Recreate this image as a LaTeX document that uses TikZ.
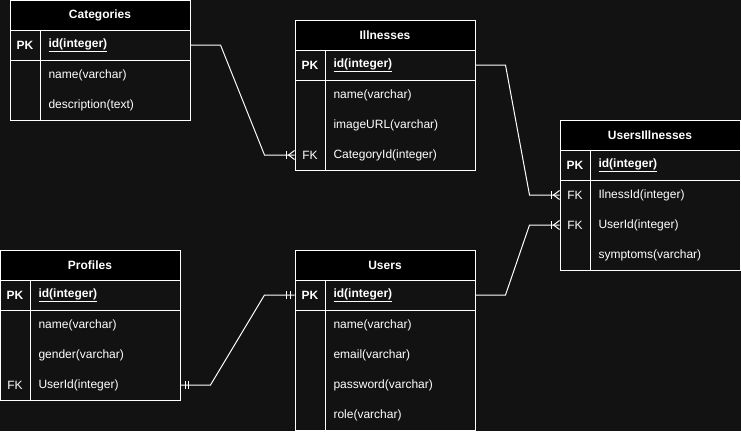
\documentclass[tikz,border=0pt]{standalone}
\usepackage{fontspec}
\setmainfont{Liberation Sans}
\definecolor{bgdark}{RGB}{18,18,18}
\tikzset{
  tabtitle/.style={font=\fontsize{12}{14}\selectfont\bfseries},
  row/.style={minimum width=180pt, minimum height=30pt, inner sep=0pt},
  keycell/.style={inner sep=0pt},
  pkcell/.style={inner sep=0pt, font=\fontsize{12}{14}\selectfont\bfseries},
  fieldcell/.style={anchor=west, inner sep=0pt},
  pkfield/.style={anchor=west, inner sep=0pt, font=\fontsize{12}{14}\selectfont\bfseries},
  many/.pic={
    \draw (-8,-4) -- (-8,4);
    \draw (-6,0) -- (0,-4.5);
    \draw (-6,0) -- (0,4.5);
  },
  oneone/.pic={
    \draw (-8,-4) -- (-8,4);
    \draw (-4.5,-4) -- (-4.5,4);
  }
}
\begin{document}
\begin{tikzpicture}[x=1pt, y=-1pt, line width=1pt, white, font=\fontsize{12}{14}\selectfont]
            \fill [bgdark] (0,0) rectangle (741,431);
            \useasboundingbox (0,0) rectangle (741,431);

            % Categories
            \draw [fill=black] (10,0) rectangle (190,30);
            \draw (10,30) rectangle (190,120);
            \draw (10,60) -- (190,60);
            \draw (40,30) -- (40,120);
            \node [tabtitle] (cat) at (100,15) {Categories};
            \node [row] (cat-id) at (100,45) {};
            \node [pkcell] (cat-id-k) at (25,45) {PK};
            \node [pkfield] (cat-id-f) at (48,45) {\underline{id(integer)}};
            \foreach \n/\k/\f [count=\i] in {name//name(varchar), desc//description(text)} {
                \node [row] (cat-\n) at (100,45+30*\i) {};
                \node [keycell] (cat-\n-k) at (25,45+30*\i) {\k};
                \node [fieldcell] (cat-\n-f) at (48,45+30*\i) {\f};
            }

            % Illnesses
            \draw [fill=black] (295,20) rectangle (475,50);
            \draw (295,50) rectangle (475,170);
            \draw (295,80) -- (475,80);
            \draw (325,50) -- (325,170);
            \node [tabtitle] (ill) at (385,35) {Illnesses};
            \node [row] (ill-id) at (385,65) {};
            \node [pkcell] (ill-id-k) at (310,65) {PK};
            \node [pkfield] (ill-id-f) at (333,65) {\underline{id(integer)}};
            \foreach \n/\k/\f [count=\i] in {name//name(varchar), url//imageURL(varchar), cat/FK/CategoryId(integer)} {
                \node [row] (ill-\n) at (385,65+30*\i) {};
                \node [keycell] (ill-\n-k) at (310,65+30*\i) {\k};
                \node [fieldcell] (ill-\n-f) at (333,65+30*\i) {\f};
            }

            % UsersIllnesses
            \draw [fill=black] (560,120) rectangle (740,150);
            \draw (560,150) rectangle (740,270);
            \draw (560,180) -- (740,180);
            \draw (590,150) -- (590,270);
            \node [tabtitle] (ui) at (650,135) {UsersIllnesses};
            \node [row] (ui-id) at (650,165) {};
            \node [pkcell] (ui-id-k) at (575,165) {PK};
            \node [pkfield] (ui-id-f) at (598,165) {\underline{id(integer)}};
            \foreach \n/\k/\f [count=\i] in {ill/FK/IlnessId(integer), user/FK/UserId(integer), symp//symptoms(varchar)} {
                \node [row] (ui-\n) at (650,165+30*\i) {};
                \node [keycell] (ui-\n-k) at (575,165+30*\i) {\k};
                \node [fieldcell] (ui-\n-f) at (598,165+30*\i) {\f};
            }

            % Profiles
            \draw [fill=black] (0,250) rectangle (180,280);
            \draw (0,280) rectangle (180,400);
            \draw (0,310) -- (180,310);
            \draw (30,280) -- (30,400);
            \node [tabtitle] (pro) at (90,265) {Profiles};
            \node [row] (pro-id) at (90,295) {};
            \node [pkcell] (pro-id-k) at (15,295) {PK};
            \node [pkfield] (pro-id-f) at (38,295) {\underline{id(integer)}};
            \foreach \n/\k/\f [count=\i] in {name//name(varchar), gender//gender(varchar), user/FK/UserId(integer)} {
                \node [row] (pro-\n) at (90,295+30*\i) {};
                \node [keycell] (pro-\n-k) at (15,295+30*\i) {\k};
                \node [fieldcell] (pro-\n-f) at (38,295+30*\i) {\f};
            }

            % Users
            \draw [fill=black] (295,250) rectangle (475,280);
            \draw (295,280) rectangle (475,430);
            \draw (295,310) -- (475,310);
            \draw (325,280) -- (325,430);
            \node [tabtitle] (usr) at (385,265) {Users};
            \node [row] (usr-id) at (385,295) {};
            \node [pkcell] (usr-id-k) at (310,295) {PK};
            \node [pkfield] (usr-id-f) at (333,295) {\underline{id(integer)}};
            \foreach \n/\k/\f [count=\i] in {name//name(varchar), email//email(varchar), pass//password(varchar), role//role(varchar)} {
                \node [row] (usr-\n) at (385,295+30*\i) {};
                \node [keycell] (usr-\n-k) at (310,295+30*\i) {\k};
                \node [fieldcell] (usr-\n-f) at (333,295+30*\i) {\f};
            }

            % relations
            \draw (cat-id.east) -- ([xshift=30pt]cat-id.east) -- ([xshift=-30pt]ill-cat.west) -- (ill-cat.west);
            \pic at (ill-cat.west) {many};
            \draw (ill-id.east) -- ([xshift=30pt]ill-id.east) -- ([xshift=-30pt]ui-ill.west) -- (ui-ill.west);
            \pic at (ui-ill.west) {many};
            \draw (usr-id.east) -- ([xshift=30pt]usr-id.east) -- ([xshift=-30pt]ui-user.west) -- (ui-user.west);
            \pic at (ui-user.west) {many};
            \draw (pro-user.east) -- ([xshift=30pt]pro-user.east) -- ([xshift=-30pt]usr-id.west) -- (usr-id.west);
            \pic [rotate=180] at (pro-user.east) {oneone};
            \pic at (usr-id.west) {oneone};
\end{tikzpicture}
\end{document}
